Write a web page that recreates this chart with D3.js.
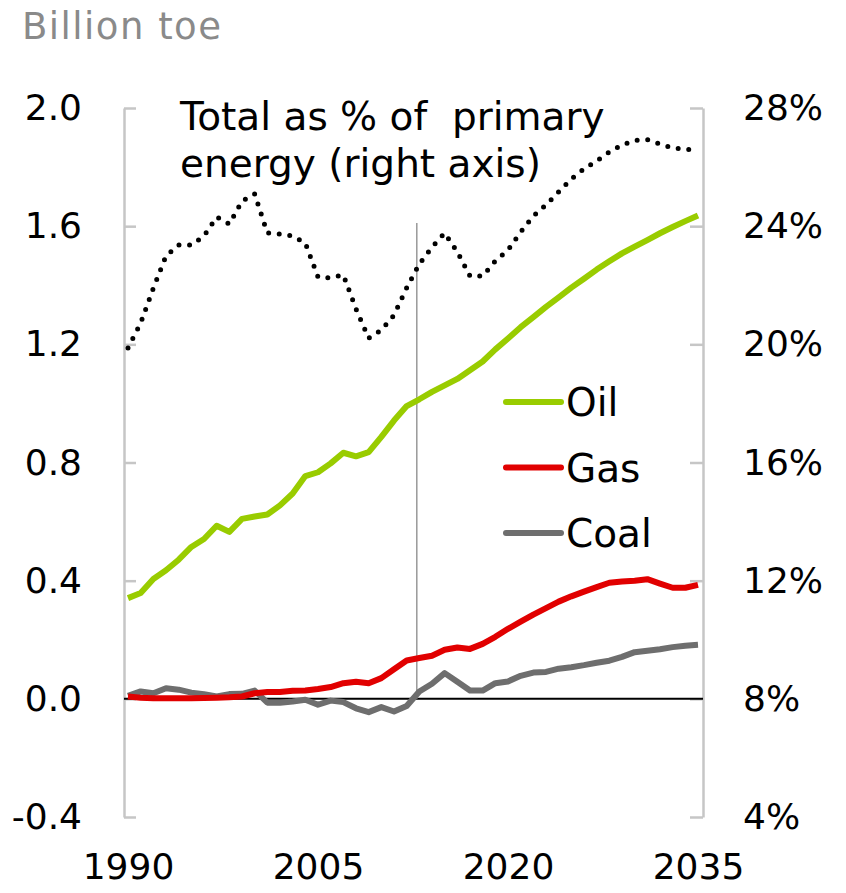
<!DOCTYPE html>
<html>
<head>
<meta charset="utf-8">
<script src="https://cdn.jsdelivr.net/npm/d3@7"></script>
<style>
  body { margin: 0; background: #fff; }
  svg text { font-family: "DejaVu Sans", sans-serif; }
</style>
</head>
<body>
<svg id="chart" width="846" height="893"></svg>
<script>
// years 1990..2035
const years = d3.range(1990, 2036);

// billion toe
const oil = [0.341, 0.358, 0.406, 0.435, 0.471, 0.514, 0.541, 0.586, 0.565, 0.609,
  0.617, 0.624, 0.655, 0.695, 0.754, 0.767, 0.797, 0.833, 0.821, 0.835,
  0.887, 0.942, 0.991, 1.014, 1.039, 1.061, 1.083, 1.112, 1.142, 1.183,
  1.220, 1.258, 1.292, 1.327, 1.359, 1.392, 1.422, 1.453, 1.481, 1.508,
  1.531, 1.553, 1.576, 1.597, 1.617, 1.636];
const gas = [0.008, 0.004, 0.002, 0.002, 0.002, 0.002, 0.003, 0.004, 0.005, 0.008,
  0.019, 0.023, 0.023, 0.027, 0.028, 0.033, 0.040, 0.053, 0.058, 0.053,
  0.070, 0.100, 0.130, 0.138, 0.146, 0.166, 0.174, 0.169, 0.186, 0.210,
  0.237, 0.261, 0.285, 0.307, 0.329, 0.347, 0.363, 0.378, 0.393, 0.397,
  0.400, 0.405, 0.390, 0.376, 0.376, 0.386];
const coal = [0.010, 0.025, 0.019, 0.036, 0.031, 0.021, 0.016, 0.008, 0.016, 0.017,
  0.028, -0.013, -0.013, -0.009, -0.003, -0.020, -0.006, -0.011, -0.032, -0.045,
  -0.028, -0.043, -0.024, 0.025, 0.051, 0.087, 0.058, 0.028, 0.028, 0.053,
  0.059, 0.078, 0.089, 0.091, 0.102, 0.107, 0.114, 0.122, 0.129, 0.142,
  0.158, 0.163, 0.168, 0.175, 0.180, 0.183];

// total as % of primary energy (right axis)
const share = [19.88, 20.72, 21.90, 22.99, 23.36, 23.36, 23.67, 24.31, 24.07, 24.85,
  25.09, 23.77, 23.73, 23.67, 23.43, 22.28, 22.25, 22.35, 21.20, 20.21,
  20.48, 20.99, 21.91, 22.72, 23.29, 23.77, 23.13, 22.31, 22.31, 22.82,
  23.19, 23.80, 24.34, 24.72, 25.16, 25.60, 25.94, 26.21, 26.51, 26.75,
  26.90, 26.93, 26.78, 26.65, 26.60, 26.58];

const leftTicks = [-0.4, 0.0, 0.4, 0.8, 1.2, 1.6, 2.0];
const rightTicks = [4, 8, 12, 16, 20, 24, 28];
const yearTicks = [1990, 2005, 2020, 2035];
const historyEnd = 2012.8;

const series = [
  { name: 'Oil', values: oil, color: '#99cc00' },
  { name: 'Gas', values: gas, color: '#e10000' },
  { name: 'Coal', values: coal, color: '#6e6e6e' }
];

const svg = d3.select('#chart');
const axisColor = '#c6c6c6';

const x = d3.scaleLinear().domain([1990, 2035]).range([128, 698]);
const yL = d3.scaleLinear().domain([-0.4, 2.0]).range([817, 108]);
const yR = d3.scaleLinear().domain([4, 28]).range([817, 108]);
const axisLeftX = 124, axisRightX = 703;

// plain hyphen for negatives, as in the source chart
const fmt1 = d => d.toFixed(1);

// unit label
svg.append('text')
  .attr('x', 22).attr('y', 39)
  .attr('font-size', 37)
  .attr('fill', '#8a8a8a')
  .attr('textLength', 199)
  .text('Billion toe');

// left axis: line + inner ticks
const leftTickG = svg.append('g')
  .attr('transform', `translate(${axisLeftX},0)`)
  .call(d3.axisRight(yL).tickValues(leftTicks).tickSize(12).tickFormat('').tickSizeOuter(0));
leftTickG.selectAll('path, line').attr('stroke', axisColor).attr('stroke-width', 2.5);

const leftLabelG = svg.append('g')
  .attr('transform', `translate(${axisLeftX},0)`)
  .call(d3.axisLeft(yL).tickValues(leftTicks).tickSize(0).tickPadding(42).tickFormat(fmt1));
leftLabelG.select('.domain').remove();
leftLabelG.selectAll('text').attr('font-size', 36).attr('fill', '#000')
  .attr('font-family', '"DejaVu Sans", sans-serif');

// right axis
const rightTickG = svg.append('g')
  .attr('transform', `translate(${axisRightX},0)`)
  .call(d3.axisLeft(yR).tickValues(rightTicks).tickSize(13).tickFormat('').tickSizeOuter(0));
rightTickG.selectAll('path, line').attr('stroke', axisColor).attr('stroke-width', 2.5);

const rightLabelG = svg.append('g')
  .attr('transform', `translate(${axisRightX},0)`)
  .call(d3.axisRight(yR).tickValues(rightTicks).tickSize(0).tickPadding(40).tickFormat(d => d + '%'));
rightLabelG.select('.domain').remove();
rightLabelG.selectAll('text').attr('font-size', 36).attr('fill', '#000')
  .attr('font-family', '"DejaVu Sans", sans-serif');

// year labels
const xLabelG = svg.append('g')
  .attr('transform', 'translate(0,817)')
  .call(d3.axisBottom(x).tickValues(yearTicks).tickSize(0).tickPadding(36).tickFormat(d3.format('d')));
xLabelG.select('.domain').remove();
xLabelG.selectAll('text').attr('font-size', 36).attr('fill', '#000')
  .attr('font-family', '"DejaVu Sans", sans-serif');

// zero line
svg.append('line')
  .attr('x1', axisLeftX).attr('x2', axisRightX)
  .attr('y1', yL(0)).attr('y2', yL(0))
  .attr('stroke', '#000').attr('stroke-width', 2);

// history / projection divider
svg.append('line')
  .attr('x1', x(historyEnd)).attr('x2', x(historyEnd))
  .attr('y1', 223).attr('y2', yL(0))
  .attr('stroke', '#999').attr('stroke-width', 1.5);

// fuel lines
const line = d3.line()
  .x((d, i) => x(years[i]))
  .y(d => yL(d));

svg.selectAll('.fuel')
  .data(series.slice().reverse())
  .enter()
  .append('path')
  .attr('class', 'fuel')
  .attr('d', d => line(d.values))
  .attr('fill', 'none')
  .attr('stroke', d => d.color)
  .attr('stroke-width', 6)
  .attr('stroke-linejoin', 'round');

// share of primary energy, dotted
const shareLine = d3.line()
  .x((d, i) => x(years[i]))
  .y(d => yR(d));

svg.append('path')
  .attr('d', shareLine(share))
  .attr('fill', 'none')
  .attr('stroke', '#000')
  .attr('stroke-width', 5)
  .attr('stroke-linecap', 'round')
  .attr('stroke-dasharray', '0 10.6');

// annotation
const note = svg.append('text')
  .attr('x', 180).attr('y', 130)
  .attr('font-size', 39)
  .attr('fill', '#000')
  .style('white-space', 'pre');
note.append('tspan').attr('x', 180).attr('y', 130).text('Total as % of  primary');
note.append('tspan').attr('x', 180).attr('y', 177).text('energy (right axis)');

// legend
const legend = svg.append('g').attr('transform', 'translate(506,402)');
const item = legend.selectAll('g')
  .data(series)
  .enter()
  .append('g')
  .attr('transform', (d, i) => `translate(0,${i * 65.5})`);
item.append('line')
  .attr('x1', 0).attr('x2', 55)
  .attr('stroke', d => d.color)
  .attr('stroke-width', 6)
  .attr('stroke-linecap', 'round');
item.append('text')
  .attr('x', 60).attr('y', 14)
  .attr('font-size', 39)
  .attr('fill', '#000')
  .text(d => d.name);
</script>
</body>
</html>
